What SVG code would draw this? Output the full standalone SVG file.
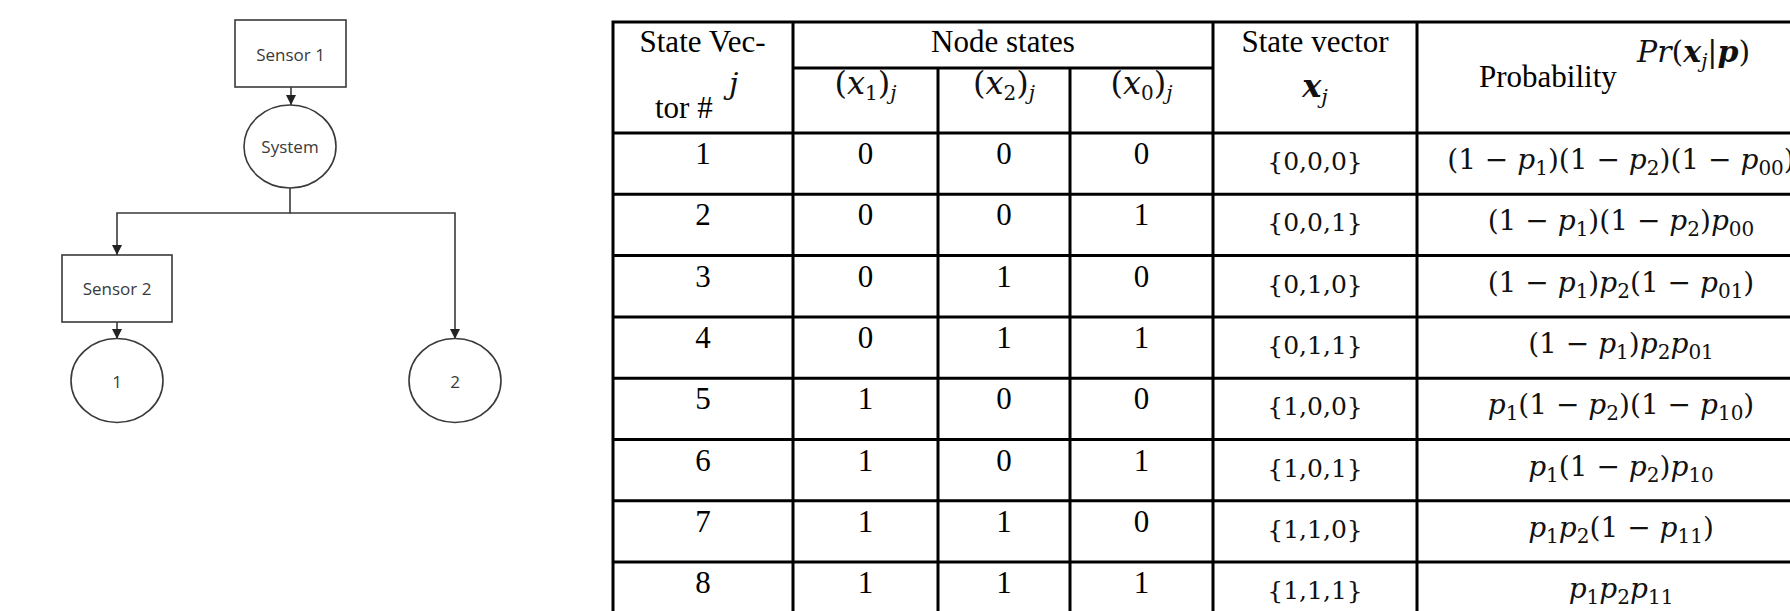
<svg xmlns="http://www.w3.org/2000/svg" width="1790" height="611" viewBox="0 0 1790 611">
<style>
.box{fill:#fff;stroke:#3a3a3a;stroke-width:1.6}
.lbl{font-family:"Open Sans","Noto Sans",sans-serif;font-size:17px;fill:#3a3a3a;text-anchor:middle;dominant-baseline:central}
.conn{fill:none;stroke:#3a3a3a;stroke-width:1.6}
.grid{fill:none;stroke:#000;stroke-width:3}
.t{font-family:"Liberation Serif","Times New Roman",serif;font-size:31px;fill:#000;text-anchor:middle}
.m{font-family:"DejaVu Serif",serif;font-size:28px;fill:#111;text-anchor:middle}
.sv{font-family:"DejaVu Serif",serif;font-size:25px;fill:#111;text-anchor:middle}
.h{font-family:"DejaVu Serif",serif;font-size:30px;fill:#111}
.i{font-style:italic}
.b{font-style:italic;font-weight:bold}
.s{font-size:20px}
</style>
<defs>
<marker id="arr" viewBox="0 0 10 10" refX="10" refY="5" markerWidth="10" markerHeight="10" markerUnits="userSpaceOnUse" orient="auto">
<path d="M0,0 L10,5 L0,10 Z" fill="#222"/>
</marker>
</defs>
<rect width="1790" height="611" fill="#fff"/>

<g id="connectors">
<path class="conn" d="M291,87 V105" marker-end="url(#arr)"/>
<path class="conn" d="M290,188 V213 H117 V255" marker-end="url(#arr)"/>
<path class="conn" d="M290,213 H455 V339" marker-end="url(#arr)"/>
<path class="conn" d="M117,322 V339" marker-end="url(#arr)"/>
</g>

<g id="sensor1"><rect class="box" x="235" y="20" width="111" height="67"/><text class="lbl" x="290.5" y="54">Sensor 1</text></g>
<g id="system"><ellipse class="box" cx="290" cy="146.5" rx="46" ry="41.5"/><text class="lbl" x="290" y="146.5">System</text></g>
<g id="sensor2"><rect class="box" x="62" y="255" width="110" height="67"/><text class="lbl" x="117" y="288.5">Sensor 2</text></g>
<g id="state1"><ellipse class="box" cx="117" cy="380.5" rx="46" ry="42"/><text class="lbl" x="117" y="381">1</text></g>
<g id="state2"><ellipse class="box" cx="455" cy="380.5" rx="46" ry="42"/><text class="lbl" x="455" y="381">2</text></g>

<g id="table">
<path class="grid" d="M613,22 H1795 M793,68 H1213 M613,133 H1795 M613,194.3 H1795 M613,255.6 H1795 M613,316.9 H1795 M613,378.2 H1795 M613,439.5 H1795 M613,500.8 H1795 M613,562.1 H1795
M613,20.5 V611 M793,22 V611 M938,68 V611 M1070,68 V611 M1213,22 V611 M1417,22 V611"/>

<text class="t" x="702.5" y="52">State Vec-</text>
<text class="t" x="655" y="118" style="text-anchor:start">tor #</text>
<text class="h i" x="729" y="94">j</text>
<text class="t" x="1003" y="52">Node states</text>
<text class="h" x="865.5" y="94" style="text-anchor:middle;font-size:32px">(<tspan class="i">x</tspan><tspan class="s" dy="6">1</tspan><tspan dy="-6">)</tspan><tspan class="s i" dy="6">j</tspan></text>
<text class="h" x="1004" y="94" style="text-anchor:middle;font-size:32px">(<tspan class="i">x</tspan><tspan class="s" dy="6">2</tspan><tspan dy="-6">)</tspan><tspan class="s i" dy="6">j</tspan></text>
<text class="h" x="1141.5" y="94" style="text-anchor:middle;font-size:32px">(<tspan class="i">x</tspan><tspan class="s" dy="6">0</tspan><tspan dy="-6">)</tspan><tspan class="s i" dy="6">j</tspan></text>
<text class="t" x="1315" y="52">State vector</text>
<text class="h" x="1315" y="97" style="text-anchor:middle;font-size:32px"><tspan class="b">x</tspan><tspan class="i" style="font-size:21px" dy="7">j</tspan></text>
<text class="t" x="1479" y="87" style="text-anchor:start">Probability</text>
<text class="h" x="1637" y="62"><tspan class="i">Pr</tspan>(<tspan class="b">x</tspan><tspan class="s i" dy="6">j</tspan><tspan dy="-6">|</tspan><tspan class="b">p</tspan>)</text>

<g id="col-index">
<text class="t" x="703" y="164">1</text><text class="t" x="703" y="225.3">2</text><text class="t" x="703" y="286.6">3</text><text class="t" x="703" y="347.9">4</text>
<text class="t" x="703" y="409.2">5</text><text class="t" x="703" y="470.5">6</text><text class="t" x="703" y="531.8">7</text><text class="t" x="703" y="593.1">8</text>
</g>
<g id="col-x1">
<text class="t" x="865.5" y="164">0</text><text class="t" x="865.5" y="225.3">0</text><text class="t" x="865.5" y="286.6">0</text><text class="t" x="865.5" y="347.9">0</text>
<text class="t" x="865.5" y="409.2">1</text><text class="t" x="865.5" y="470.5">1</text><text class="t" x="865.5" y="531.8">1</text><text class="t" x="865.5" y="593.1">1</text>
</g>
<g id="col-x2">
<text class="t" x="1004" y="164">0</text><text class="t" x="1004" y="225.3">0</text><text class="t" x="1004" y="286.6">1</text><text class="t" x="1004" y="347.9">1</text>
<text class="t" x="1004" y="409.2">0</text><text class="t" x="1004" y="470.5">0</text><text class="t" x="1004" y="531.8">1</text><text class="t" x="1004" y="593.1">1</text>
</g>
<g id="col-x0">
<text class="t" x="1141.5" y="164">0</text><text class="t" x="1141.5" y="225.3">1</text><text class="t" x="1141.5" y="286.6">0</text><text class="t" x="1141.5" y="347.9">1</text>
<text class="t" x="1141.5" y="409.2">0</text><text class="t" x="1141.5" y="470.5">1</text><text class="t" x="1141.5" y="531.8">0</text><text class="t" x="1141.5" y="593.1">1</text>
</g>
<g id="col-vector">
<text class="sv" x="1315" y="170">{0,0,0}</text><text class="sv" x="1315" y="231.3">{0,0,1}</text><text class="sv" x="1315" y="292.6">{0,1,0}</text><text class="sv" x="1315" y="353.9">{0,1,1}</text>
<text class="sv" x="1315" y="415.2">{1,0,0}</text><text class="sv" x="1315" y="476.5">{1,0,1}</text><text class="sv" x="1315" y="537.8">{1,1,0}</text><text class="sv" x="1315" y="599.1">{1,1,1}</text>
</g>
<g id="col-prob">
<text class="m" x="1621" y="169">(1 − <tspan class="i">p</tspan><tspan class="s" dy="6">1</tspan><tspan dy="-6">)(1 − </tspan><tspan class="i">p</tspan><tspan class="s" dy="6">2</tspan><tspan dy="-6">)(1 − </tspan><tspan class="i">p</tspan><tspan class="s" dy="6">00</tspan><tspan dy="-6">)</tspan></text>
<text class="m" x="1621" y="230.3">(1 − <tspan class="i">p</tspan><tspan class="s" dy="6">1</tspan><tspan dy="-6">)(1 − </tspan><tspan class="i">p</tspan><tspan class="s" dy="6">2</tspan><tspan dy="-6">)</tspan><tspan class="i">p</tspan><tspan class="s" dy="6">00</tspan></text>
<text class="m" x="1621" y="291.6">(1 − <tspan class="i">p</tspan><tspan class="s" dy="6">1</tspan><tspan dy="-6">)</tspan><tspan class="i">p</tspan><tspan class="s" dy="6">2</tspan><tspan dy="-6">(1 − </tspan><tspan class="i">p</tspan><tspan class="s" dy="6">01</tspan><tspan dy="-6">)</tspan></text>
<text class="m" x="1621" y="352.9">(1 − <tspan class="i">p</tspan><tspan class="s" dy="6">1</tspan><tspan dy="-6">)</tspan><tspan class="i">p</tspan><tspan class="s" dy="6">2</tspan><tspan class="i" dy="-6">p</tspan><tspan class="s" dy="6">01</tspan></text>
<text class="m" x="1621" y="414.2"><tspan class="i">p</tspan><tspan class="s" dy="6">1</tspan><tspan dy="-6">(1 − </tspan><tspan class="i">p</tspan><tspan class="s" dy="6">2</tspan><tspan dy="-6">)(1 − </tspan><tspan class="i">p</tspan><tspan class="s" dy="6">10</tspan><tspan dy="-6">)</tspan></text>
<text class="m" x="1621" y="475.5"><tspan class="i">p</tspan><tspan class="s" dy="6">1</tspan><tspan dy="-6">(1 − </tspan><tspan class="i">p</tspan><tspan class="s" dy="6">2</tspan><tspan dy="-6">)</tspan><tspan class="i">p</tspan><tspan class="s" dy="6">10</tspan></text>
<text class="m" x="1621" y="536.8"><tspan class="i">p</tspan><tspan class="s" dy="6">1</tspan><tspan class="i" dy="-6">p</tspan><tspan class="s" dy="6">2</tspan><tspan dy="-6">(1 − </tspan><tspan class="i">p</tspan><tspan class="s" dy="6">11</tspan><tspan dy="-6">)</tspan></text>
<text class="m" x="1621" y="598.1"><tspan class="i">p</tspan><tspan class="s" dy="6">1</tspan><tspan class="i" dy="-6">p</tspan><tspan class="s" dy="6">2</tspan><tspan class="i" dy="-6">p</tspan><tspan class="s" dy="6">11</tspan></text>
</g>
</g>
</svg>
